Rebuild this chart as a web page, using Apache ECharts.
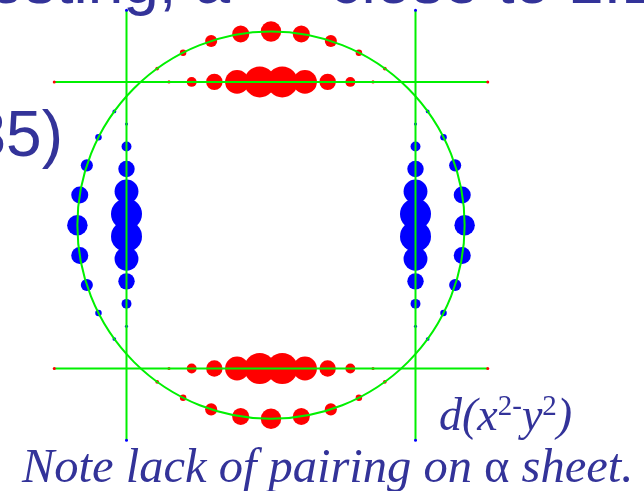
<!DOCTYPE html>
<html>
<head>
<meta charset="utf-8">
<script src="https://cdn.jsdelivr.net/npm/echarts@6/dist/echarts.min.js"></script>
<style>
  html, body { margin: 0; padding: 0; background: #ffffff; }
  #chart { width: 644px; height: 491px; }
</style>
</head>
<body>
<div id="chart"></div>
<script>
// Orbital lobes: bubble weights along the nodal lines and around the circle
const rowOffsets = [-0.706, -0.549, -0.392, -0.235, -0.078, 0.078, 0.235, 0.392, 0.549, 0.706];
const rowWeights = [0.10, 0.32, 0.53, 0.77, 1.00, 1.00, 0.77, 0.53, 0.32, 0.10];
const arcAngles = [-36, -27, -18, -9, 0, 9, 18, 27, 36];
const arcWeights = [0.12, 0.21, 0.39, 0.55, 0.66, 0.55, 0.39, 0.21, 0.12];
const lineLevel = 1;       // position of the nodal lines
const lineExtent = 1.5;    // half length of the nodal lines
const circleRadius = 1.34; // radius of the reference circle

const RED = '#ff0000', BLUE = '#0000ff', GREEN = '#00f000', INK = '#333399';
const SIZE = 31;

const chart = echarts.init(document.getElementById('chart'), null, { renderer: 'canvas' });

const rowTop = rowOffsets.map((x, i) => [x, lineLevel, rowWeights[i]]);
const rowBottom = rowOffsets.map((x, i) => [x, -lineLevel, rowWeights[i]]);
const colLeft = rowOffsets.map((y, i) => [-lineLevel, y, rowWeights[i]]);
const colRight = rowOffsets.map((y, i) => [lineLevel, y, rowWeights[i]]);
const norm = a => ((a % 360) + 360) % 360;
const arc = base => arcAngles.map((a, i) => [circleRadius, norm(base + a), arcWeights[i]]);

const sizeFn = v => v[2] * SIZE;

function cartScatter(data, color) {
  return { type: 'scatter', coordinateSystem: 'cartesian2d', data, symbolSize: sizeFn,
    itemStyle: { color, opacity: 1 }, z: 2, silent: true };
}
function polarScatter(data, color) {
  return { type: 'scatter', coordinateSystem: 'polar', data, symbolSize: sizeFn,
    encode: { radius: 0, angle: 1 }, itemStyle: { color, opacity: 1 }, z: 2, silent: true };
}
function nodeLine(data, endColor) {
  return { type: 'line', coordinateSystem: 'cartesian2d', data, showSymbol: true,
    symbol: 'circle', symbolSize: 3, itemStyle: { color: endColor },
    lineStyle: { color: GREEN, width: 2 }, z: 4, silent: true };
}

const SERIF = '"Liberation Serif", "Times New Roman", serif';
const SANS = '"Liberation Sans", Arial, sans-serif';

const option = {
  animation: false,
  backgroundColor: '#ffffff',
  grid: { left: 10.9, top: 3.1, width: 520.2, height: 444.2 },
  xAxis: { type: 'value', min: -1.8, max: 1.8, show: false },
  yAxis: { type: 'value', min: -1.55, max: 1.55, show: false },
  polar: { center: [271, 225], radius: 193 },
  angleAxis: { type: 'value', min: 0, max: 360, startAngle: 0, clockwise: false, z: 5,
    axisLine: { show: true, lineStyle: { color: GREEN, width: 2 } },
    axisTick: { show: false }, axisLabel: { show: false }, splitLine: { show: false } },
  radiusAxis: { type: 'value', min: 0, max: circleRadius, show: false,
    axisLine: { show: false }, splitLine: { show: false } },
  series: [
    cartScatter(rowTop, RED),
    cartScatter(rowBottom, RED),
    cartScatter(colLeft, BLUE),
    cartScatter(colRight, BLUE),
    polarScatter(arc(90), RED),
    polarScatter(arc(270), RED),
    polarScatter(arc(180), BLUE),
    polarScatter(arc(0), BLUE),
    nodeLine([[-lineExtent, lineLevel], [lineExtent, lineLevel]], RED),
    nodeLine([[-lineExtent, -lineLevel], [lineExtent, -lineLevel]], RED),
    nodeLine([[-lineLevel, -lineExtent], [-lineLevel, lineExtent]], BLUE),
    nodeLine([[lineLevel, -lineExtent], [lineLevel, lineExtent]], BLUE)
  ],
  graphic: [
    { type: 'text', x: -140, y: -47, z: 10, silent: true,
      style: { text: 'Interesting, a \u2014 close to 1:1 in the', fill: INK,
        font: '64px ' + SANS } },
    { type: 'text', x: 63, y: 106, z: 10, silent: true,
      style: { text: '35)', fill: INK, align: 'right', verticalAlign: 'top',
        font: '64px ' + SANS } },
    { type: 'text', x: 439, y: 393, z: 10, silent: true,
      style: { text: '{b|d(x}{s|2-}{b|y}{s|2}{b|)}', fill: INK,
        rich: {
          b: { fontFamily: SERIF, fontStyle: 'italic', fontSize: 46, lineHeight: 50, fill: INK },
          s: { fontFamily: SERIF, fontSize: 29, lineHeight: 36, verticalAlign: 'top', fill: INK }
        } } },
    { type: 'text', x: 22, y: 443, z: 10, silent: true,
      style: { text: '{i|Note lack of pairing on }{g|\u03b1}{i| sheet.}', fill: INK,
        rich: {
          i: { fontFamily: SERIF, fontStyle: 'italic', fontSize: 48.5, lineHeight: 52, fill: INK },
          g: { fontFamily: SERIF, fontSize: 48.5, lineHeight: 52, fill: INK }
        } } }
  ]
};

chart.setOption(option);

// Fit the polar circle onto the cartesian scale so the arc bubbles sit on it
const c0 = chart.convertToPixel({ gridIndex: 0 }, [0, 0]);
const c1 = chart.convertToPixel({ gridIndex: 0 }, [circleRadius, 0]);
chart.setOption({ polar: { center: [c0[0], c0[1]], radius: c1[0] - c0[0] } });
</script>
</body>
</html>
